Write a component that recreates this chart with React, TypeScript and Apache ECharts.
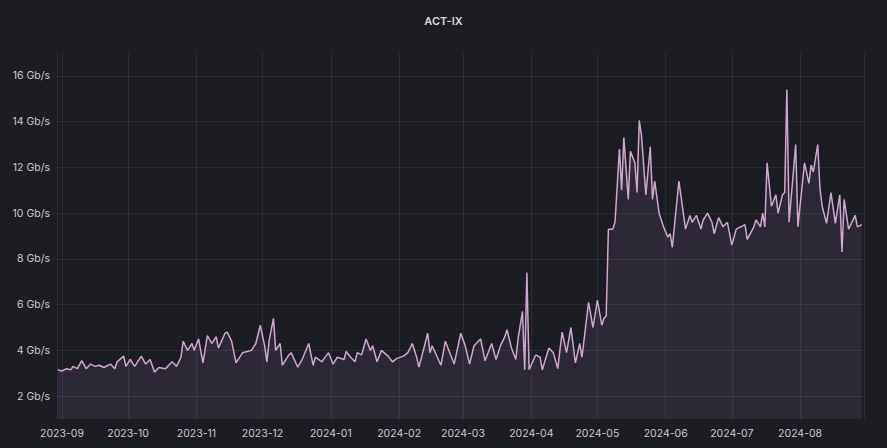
import React, { useEffect, useRef } from 'react';
import * as echarts from 'echarts';

const chartTitle = 'ACT-IX';

const dates: string[] = [
  '2023-08-30', '2023-09-01', '2023-09-03', '2023-09-05', '2023-09-06', '2023-09-08', '2023-09-10', '2023-09-12',
  '2023-09-14', '2023-09-16', '2023-09-18', '2023-09-20', '2023-09-23', '2023-09-25', '2023-09-26', '2023-09-29',
  '2023-09-30', '2023-10-02', '2023-10-04', '2023-10-07', '2023-10-09', '2023-10-11', '2023-10-13', '2023-10-15',
  '2023-10-18', '2023-10-19', '2023-10-21', '2023-10-23', '2023-10-25', '2023-10-26', '2023-10-28', '2023-10-30',
  '2023-10-31', '2023-11-02', '2023-11-04', '2023-11-06', '2023-11-08', '2023-11-10', '2023-11-11', '2023-11-14',
  '2023-11-15', '2023-11-17', '2023-11-19', '2023-11-22', '2023-11-24', '2023-11-26', '2023-11-28', '2023-11-30',
  '2023-12-02', '2023-12-03', '2023-12-04', '2023-12-06', '2023-12-07', '2023-12-09', '2023-12-10', '2023-12-13',
  '2023-12-14', '2023-12-17', '2023-12-19', '2023-12-22', '2023-12-24', '2023-12-25', '2023-12-28', '2023-12-29',
  '2023-12-31', '2024-01-02', '2024-01-04', '2024-01-07', '2024-01-08', '2024-01-10', '2024-01-12', '2024-01-13',
  '2024-01-15', '2024-01-17', '2024-01-19', '2024-01-20', '2024-01-22', '2024-01-24', '2024-01-27', '2024-01-29',
  '2024-01-31', '2024-02-03', '2024-02-05', '2024-02-07', '2024-02-09', '2024-02-10', '2024-02-12', '2024-02-14',
  '2024-02-15', '2024-02-16', '2024-02-20', '2024-02-22', '2024-02-24', '2024-02-26', '2024-02-29', '2024-03-02',
  '2024-03-04', '2024-03-06', '2024-03-09', '2024-03-11', '2024-03-14', '2024-03-16', '2024-03-18', '2024-03-20',
  '2024-03-21', '2024-03-23', '2024-03-25', '2024-03-26', '2024-03-28', '2024-03-29', '2024-03-30', '2024-03-31',
  '2024-04-03', '2024-04-05', '2024-04-06', '2024-04-09', '2024-04-11', '2024-04-13', '2024-04-15', '2024-04-17',
  '2024-04-19', '2024-04-21', '2024-04-23', '2024-04-24', '2024-04-27', '2024-04-29', '2024-05-01', '2024-05-03',
  '2024-05-04', '2024-05-05', '2024-05-06', '2024-05-08', '2024-05-09', '2024-05-11', '2024-05-12', '2024-05-13',
  '2024-05-15', '2024-05-16', '2024-05-18', '2024-05-19', '2024-05-20', '2024-05-21', '2024-05-23', '2024-05-25',
  '2024-05-26', '2024-05-27', '2024-05-29', '2024-05-31', '2024-06-02', '2024-06-03', '2024-06-04', '2024-06-07',
  '2024-06-10', '2024-06-12', '2024-06-13', '2024-06-15', '2024-06-17', '2024-06-18', '2024-06-20', '2024-06-22',
  '2024-06-23', '2024-06-25', '2024-06-27', '2024-06-29', '2024-07-01', '2024-07-03', '2024-07-05', '2024-07-07',
  '2024-07-08', '2024-07-11', '2024-07-12', '2024-07-14', '2024-07-15', '2024-07-16', '2024-07-17', '2024-07-19',
  '2024-07-21', '2024-07-22', '2024-07-24', '2024-07-25', '2024-07-26', '2024-07-27', '2024-07-30', '2024-07-31',
  '2024-08-03', '2024-08-05', '2024-08-06', '2024-08-07', '2024-08-09', '2024-08-10', '2024-08-11', '2024-08-13',
  '2024-08-15', '2024-08-17', '2024-08-19', '2024-08-20', '2024-08-21', '2024-08-23', '2024-08-26', '2024-08-27',
  '2024-08-29',
];

const trafficGbps: number[] = [
  3.15, 3.1, 3.2, 3.15, 3.3, 3.2, 3.55, 3.2,
  3.4, 3.3, 3.35, 3.25, 3.4, 3.2, 3.5, 3.75,
  3.3, 3.6, 3.3, 3.75, 3.4, 3.6, 3.05, 3.25,
  3.2, 3.3, 3.5, 3.3, 3.7, 4.4, 4.0, 4.3,
  4.0, 4.5, 3.45, 4.65, 4.3, 4.6, 4.1, 4.75,
  4.8, 4.4, 3.45, 3.9, 3.95, 4.0, 4.3, 5.1,
  4.2, 3.5, 4.4, 5.4, 4.0, 4.3, 3.35, 3.8,
  3.9, 3.27, 3.6, 4.3, 3.35, 3.7, 3.5, 3.65,
  3.9, 3.4, 3.7, 3.6, 3.95, 3.7, 3.5, 3.9,
  3.8, 4.5, 4.0, 4.2, 3.5, 4.0, 3.75, 3.5,
  3.65, 3.75, 3.9, 4.3, 3.7, 3.27, 4.0, 4.75,
  3.9, 4.2, 3.35, 4.4, 3.9, 3.4, 4.75, 4.2,
  3.4, 4.2, 4.5, 3.55, 4.3, 3.6, 4.2, 4.6,
  4.9, 4.1, 3.6, 4.5, 5.7, 3.15, 7.4, 3.15,
  3.8, 3.7, 3.15, 4.1, 3.9, 3.2, 4.8, 3.9,
  5.0, 3.45, 4.3, 3.7, 6.1, 5.0, 6.2, 5.1,
  5.4, 5.5, 9.3, 9.3, 9.6, 12.8, 11.0, 13.3,
  10.6, 12.7, 12.2, 10.9, 14.05, 13.4, 10.8, 12.9,
  10.6, 11.4, 10.0, 9.4, 8.95, 9.1, 8.5, 11.4,
  9.3, 9.9, 9.6, 9.9, 9.3, 9.7, 10.0, 9.6,
  9.1, 9.8, 9.4, 9.6, 8.6, 9.3, 9.4, 9.5,
  8.85, 9.4, 9.7, 9.4, 10.0, 9.4, 12.2, 10.3,
  10.8, 10.0, 10.8, 10.9, 15.4, 9.6, 13.0, 9.4,
  12.2, 11.3, 12.1, 11.8, 13.0, 11.1, 10.3, 9.55,
  10.9, 9.55, 10.8, 8.3, 10.6, 9.3, 9.9, 9.4,
  9.5,
];

const yMin = 1;
const yMax = 17;
const xStart = '2023-08-29 18:00:00';
const xEnd = '2024-08-30 00:00:00';

const BG = '#1c1d22';
const TEXT = '#c7c8d1';
const GRID = 'rgba(204,204,220,0.09)';
const LINE = '#cfa6cf';
const FILL = 'rgba(190,140,210,0.11)';
const FONT = 'Inter, "Noto Sans", sans-serif';

const pad = (n: number) => (n < 10 ? '0' + n : String(n));

export default function App() {
  const ref = useRef<HTMLDivElement>(null);

  useEffect(() => {
    document.body.style.margin = '0';
    document.body.style.background = BG;
    const chart = echarts.init(ref.current as HTMLDivElement, null, { renderer: 'svg' });
    const toTs = (s: string) => echarts.time.parse(s).getTime();

    chart.setOption({
      animation: false,
      backgroundColor: BG,
      title: {
        text: chartTitle,
        left: 'center',
        top: 10,
        textStyle: { color: '#d8d9de', fontSize: 11, fontWeight: 600, fontFamily: FONT },
      },
      grid: { left: 57, right: 23, top: 53, bottom: 29 },
      xAxis: {
        type: 'time',
        min: toTs(xStart),
        max: toTs(xEnd),
        splitNumber: 12,
        minInterval: 28 * 86400000,
        maxInterval: 31 * 86400000,
        axisLine: { show: false },
        axisTick: { show: false },
        axisLabel: {
          color: TEXT,
          fontSize: 10.5,
          fontFamily: FONT,
          margin: 9,
          hideOverlap: false,
          formatter: (v: number) => {
            const d = new Date(v);
            if (d.getDate() !== 1 || d.getHours() !== 0) return '';
            return d.getFullYear() + '-' + pad(d.getMonth() + 1);
          },
        },
        splitLine: { show: true, lineStyle: { color: GRID, width: 1 } },
      },
      yAxis: {
        type: 'value',
        min: yMin,
        max: yMax,
        interval: 1,
        axisLine: { show: false },
        axisTick: { show: false },
        axisLabel: {
          color: TEXT,
          fontSize: 10.5,
          fontFamily: FONT,
          margin: 7,
          formatter: (v: number) => (v % 2 === 0 ? v + ' Gb/s' : ''),
        },
        splitLine: { show: true, lineStyle: { color: ['rgba(0,0,0,0)', GRID], width: 1 } },
      },
      series: [
        {
          type: 'line',
          name: chartTitle,
          data: dates.map((d, i) => [d, trafficGbps[i]]),
          showSymbol: false,
          symbol: 'none',
          lineStyle: { color: LINE, width: 1.5 },
          itemStyle: { color: LINE },
          areaStyle: { color: FILL, opacity: 1 },
        },
      ],
    });
    return () => chart.dispose();
  }, []);

  return <div ref={ref} style={{ width: 887, height: 448 }} />;
}
